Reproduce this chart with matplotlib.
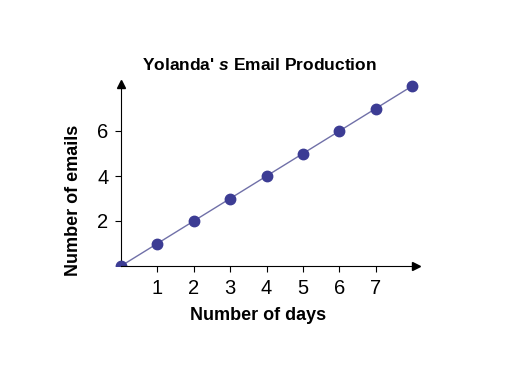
import matplotlib
matplotlib.use("Agg")
import matplotlib.pyplot as plt

plt.rcParams['font.family'] = ['Liberation Sans', 'DejaVu Sans']
plt.rcParams['mathtext.fontset'] = 'custom'
plt.rcParams['mathtext.it'] = 'Liberation Sans:italic:bold'
plt.rcParams['mathtext.rm'] = 'Liberation Sans:bold'

days = [0, 1, 2, 3, 4, 5, 6, 7, 8]
emails = [0, 1, 2, 3, 4, 5, 6, 7, 8]
x_ticks = [1, 2, 3, 4, 5, 6, 7]
y_ticks = [2, 4, 6]

W, H = 518, 374
fig = plt.figure(figsize=(W / 100, H / 100), dpi=100)

# axes placed in pixel units: origin at (121, 266)
x0, x1 = -0.2, 8.3
y0, y1 = 0, 8.4
x_end, y_end = 8.1, 8.1
ux, uy = 36.4, 22.5
left = 121 + x0 * ux
bottom = H - 266
ax = fig.add_axes([left / W, bottom / H, (x1 - x0) * ux / W, (y1 - y0) * uy / H])
ax.set_xlim(x0, x1)
ax.set_ylim(y0, y1)

ax.plot(days, emails, color='#7070a8', lw=1, zorder=2)
ax.plot(days, emails, 'o', color='#3c3c94', ms=7.5, zorder=3)

for s in ['top', 'right']:
    ax.spines[s].set_visible(False)
ax.spines['left'].set_position(('data', 0))
ax.spines['left'].set_bounds(0, y_end)
ax.spines['bottom'].set_bounds(0, x_end)
ax.spines['left'].set_zorder(1)
ax.spines['bottom'].set_zorder(4)

ax.plot(x_end, 0, '>k', ms=6, clip_on=False, zorder=5)
ax.plot(0, y_end, '^k', ms=6, clip_on=False, zorder=5)

ax.set_xticks(x_ticks)
ax.set_yticks(y_ticks)
ax.set_xticklabels([str(t) for t in x_ticks], fontfamily='Liberation Sans')
ax.set_yticklabels([str(t) for t in y_ticks], fontfamily='Liberation Sans')
ax.tick_params(direction='out', length=4, width=0.8, labelsize=14.5, pad=5)

fig.text(73 / W, 1 - 200 / H, 'Number of emails', rotation=90, ha='center', va='center',
         fontsize=13, fontweight='bold')
fig.text(258 / W, 1 - 316 / H, 'Number of days', ha='center', va='center',
         fontsize=13, fontweight='bold')
fig.text(259 / W, 1 - 65 / H, r"Yolanda' $\mathit{s}$ Email Production", ha='center', va='center',
         fontsize=12.5, fontweight='bold')

fig.savefig('out.png', dpi=100)
